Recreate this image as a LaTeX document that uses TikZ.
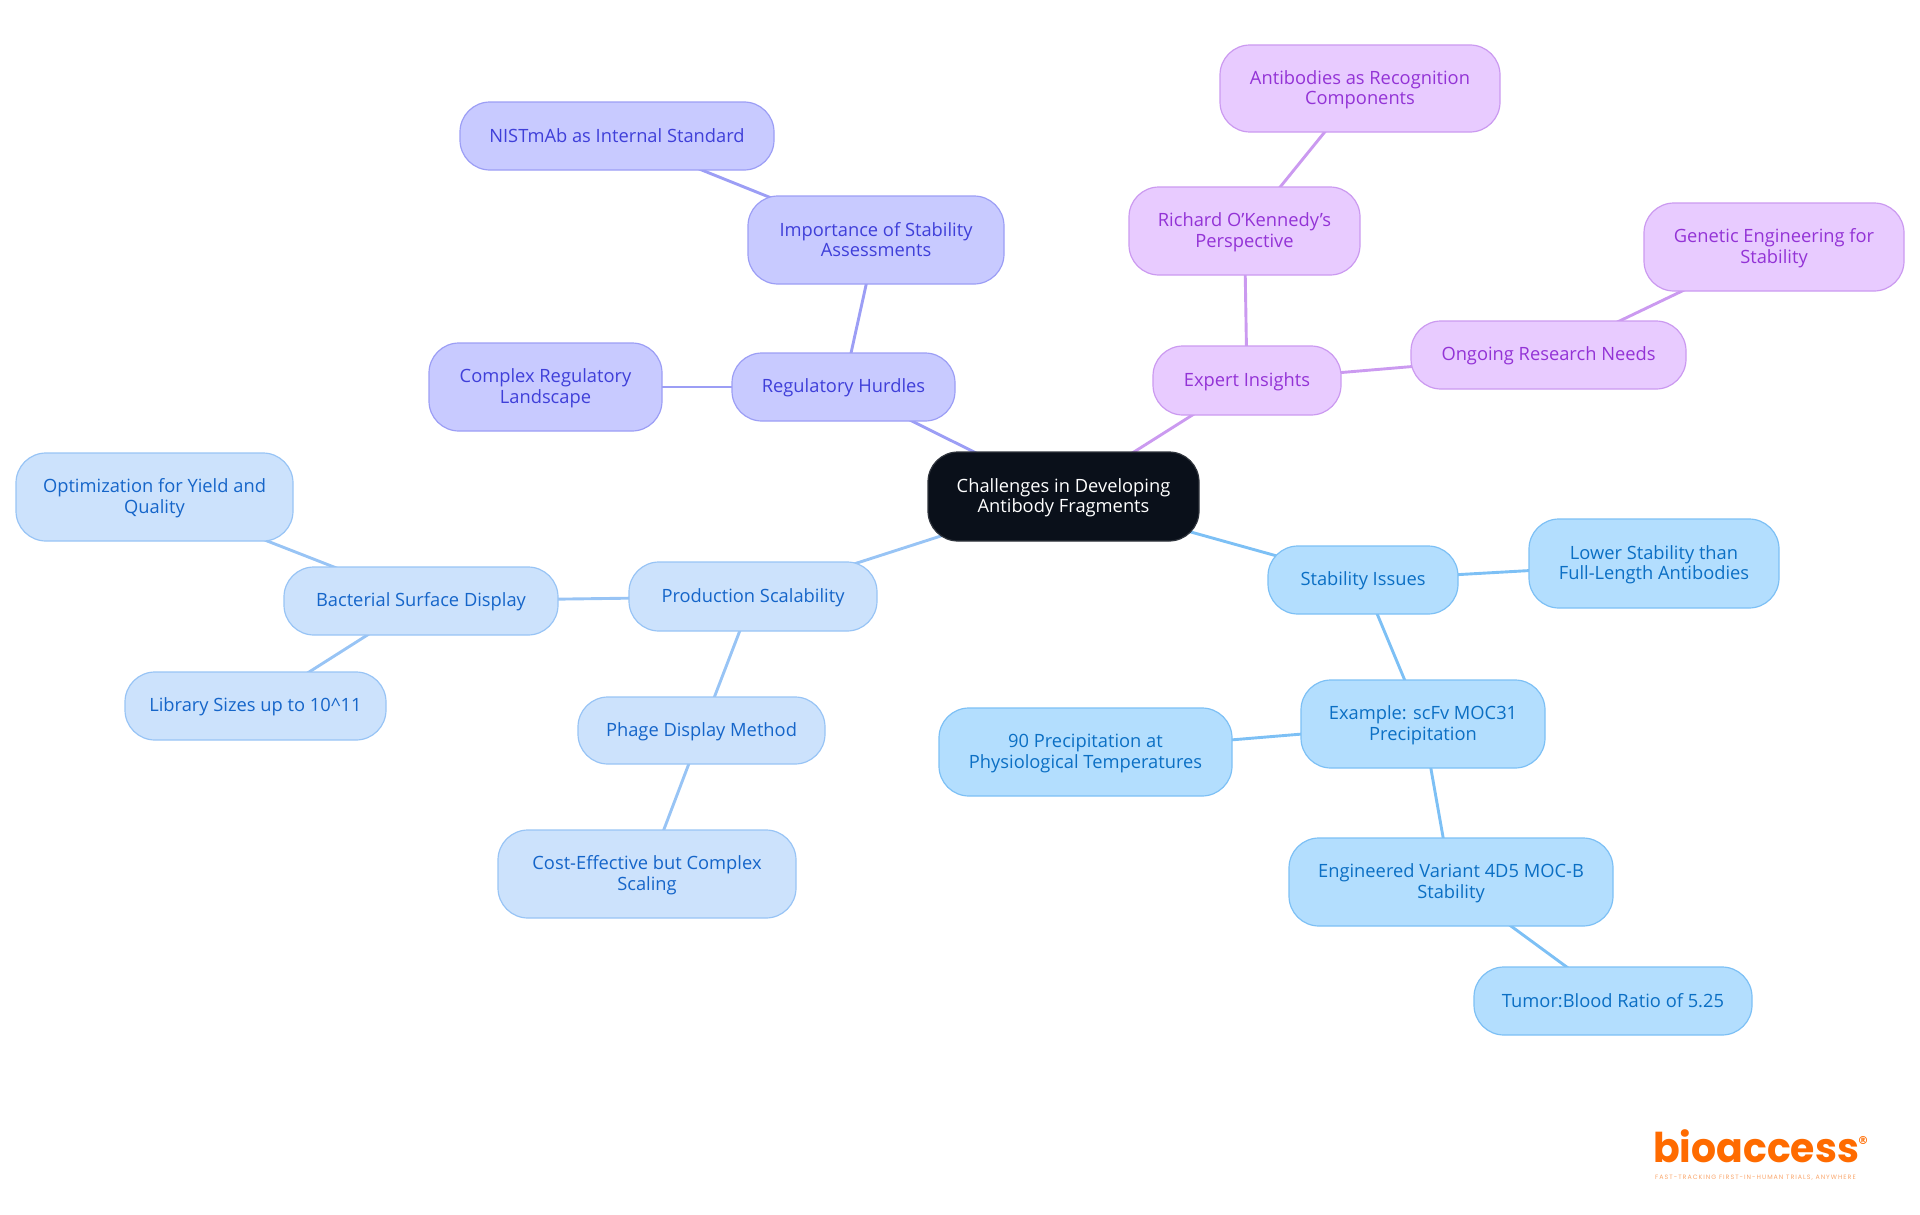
\documentclass[tikz,border=0pt]{standalone}
\usepackage{fontspec}
\setmainfont{Open Sans}
\newfontfamily\logofont{Poppins}
\newfontfamily\markfont{DejaVu Sans}
\newfontfamily\tagfont[LetterSpace=16]{Poppins}
\usetikzlibrary{backgrounds}
\definecolor{bfill}{HTML}{B3DEFE}\definecolor{bline}{HTML}{7DC0F5}\definecolor{btext}{HTML}{0B6FC4}
\definecolor{lfill}{HTML}{CCE2FC}\definecolor{lline}{HTML}{98C4F5}\definecolor{ltext}{HTML}{1565C9}
\definecolor{ifill}{HTML}{C8CAFF}\definecolor{iline}{HTML}{9C9EF5}\definecolor{itext}{HTML}{3F3FD9}
\definecolor{pfill}{HTML}{E8CBFF}\definecolor{pline}{HTML}{CB9AF0}\definecolor{ptext}{HTML}{9333D6}
\definecolor{cfill}{HTML}{0A101A}\definecolor{orangelogo}{HTML}{FF6B00}\definecolor{orangetag}{HTML}{F9A66C}
\tikzset{
  bubble/.style={draw,rounded corners=30pt,align=center,inner sep=0pt,outer sep=0pt,line width=1.2pt,font=\fontsize{18.3}{20.4}\selectfont},
  centralbox/.style={bubble,fill=cfill,draw=cfill!85!white,text=white},
  bluebox/.style={bubble,fill=bfill,draw=bline,text=btext},
  lightbox/.style={bubble,fill=lfill,draw=lline,text=ltext},
  indigobox/.style={bubble,fill=ifill,draw=iline,text=itext},
  purplebox/.style={bubble,fill=pfill,draw=pline,text=ptext},
  link/.style={line width=2.9pt},
  bluelink/.style={link,draw=bline},
  lightlink/.style={link,draw=lline},
  indigolink/.style={link,draw=iline},
  purplelink/.style={link,draw=pline},
}
\newcommand{\bubblenode}[7]{\node[#1,minimum width={(#5-#3)*1pt},minimum height={(#6-#4)*1pt}] (#2) at ({(#3+#5)/2},{(#4+#6)/2}) {\rule{0pt}{16pt}#7\rule[-3.6pt]{0pt}{0pt}};}
\begin{document}
\begin{tikzpicture}[x=1pt,y=-1pt]
\useasboundingbox (0,0) rectangle (1920,1215);
\bubblenode{centralbox}{root}{928}{452}{1199}{541}{Challenges in Developing\\Antibody Fragments}
\bubblenode{bluebox}{stab}{1268}{546}{1458}{614}{Stability Issues}
\bubblenode{bluebox}{lower}{1529}{519}{1779}{608}{Lower Stability than\\Full-Length Antibodies}
\bubblenode{bluebox}{moc}{1301}{680}{1545}{768}{Example: scFv MOC31\\Precipitation}
\bubblenode{bluebox}{precip}{939}{708}{1232}{796}{90 Precipitation at\\Physiological Temperatures}
\bubblenode{bluebox}{variant}{1289}{838}{1613}{926}{Engineered Variant 4D5 MOC-B\\Stability}
\bubblenode{bluebox}{tumor}{1474}{967}{1752}{1035}{Tumor:Blood Ratio of 5.25}
\bubblenode{lightbox}{prod}{629}{562}{877}{631}{Production Scalability}
\bubblenode{lightbox}{bact}{284}{567}{558}{635}{Bacterial Surface Display}
\bubblenode{lightbox}{optim}{16}{453}{293}{541}{Optimization for Yield and\\Quality}
\bubblenode{lightbox}{lib}{125}{672}{386}{740}{Library Sizes up to 10\textasciicircum 11}
\bubblenode{lightbox}{phage}{578}{697}{825}{764}{Phage Display Method}
\bubblenode{lightbox}{cost}{498}{830}{796}{918}{Cost-Effective but Complex\\Scaling}
\bubblenode{indigobox}{reg}{732}{353}{955}{421}{Regulatory Hurdles}
\bubblenode{indigobox}{imp}{748}{196}{1004}{284}{Importance of Stability\\Assessments}
\bubblenode{indigobox}{nist}{460}{102}{774}{170}{NISTmAb as Internal Standard}
\bubblenode{indigobox}{landscape}{429}{343}{662}{431}{Complex Regulatory\\Landscape}
\bubblenode{purplebox}{expert}{1153}{346}{1341}{415}{Expert Insights}
\bubblenode{purplebox}{richard}{1129}{187}{1360}{275}{Richard O'Kennedy's\\Perspective}
\bubblenode{purplebox}{recog}{1220}{45}{1500}{132}{Antibodies as Recognition\\Components}
\bubblenode{purplebox}{ongoing}{1411}{321}{1686}{389}{Ongoing Research Needs}
\bubblenode{purplebox}{genetic}{1644}{203}{1904}{291}{Genetic Engineering for\\Stability}
\begin{scope}[on background layer]
\draw[bluelink] (root.center) -- (stab.center);
\draw[bluelink] (stab.center) -- (lower.center);
\draw[bluelink] (stab.center) -- (moc.center);
\draw[bluelink] (moc.center) -- (precip.center);
\draw[bluelink] (moc.center) -- (variant.center);
\draw[bluelink] (variant.center) -- (tumor.center);
\draw[lightlink] (root.center) -- (prod.center);
\draw[lightlink] (prod.center) -- (bact.center);
\draw[lightlink] (bact.center) -- (optim.center);
\draw[lightlink] (bact.center) -- (lib.center);
\draw[lightlink] (prod.center) -- (phage.center);
\draw[lightlink] (phage.center) -- (cost.center);
\draw[indigolink] (root.center) -- (reg.center);
\draw[indigolink] (reg.center) -- (imp.center);
\draw[indigolink] (imp.center) -- (nist.center);
\draw[indigolink] (reg.center) -- (landscape.center);
\draw[purplelink] (root.center) -- (expert.center);
\draw[purplelink] (expert.center) -- (richard.center);
\draw[purplelink] (richard.center) -- (recog.center);
\draw[purplelink] (expert.center) -- (ongoing.center);
\draw[purplelink] (ongoing.center) -- (genetic.center);
\end{scope}
\node[inner sep=0pt,anchor=base west,text=orangelogo,xscale=0.96,transform shape,font=\logofont\bfseries\fontsize{41}{41}\selectfont] (logo) at (1653,1162) {bioaccess};
\node[inner sep=0pt,text=orangelogo,font=\markfont\bfseries\fontsize{11}{11}\selectfont] (regmark) at (1863,1141) {®};
\node[inner sep=0pt,anchor=base west,text=orangetag,font=\tagfont\fontsize{6.3}{7}\selectfont] (tagline) at (1655,1179) {FAST-TRACKING FIRST-IN-HUMAN TRIALS, ANYWHERE};
\end{tikzpicture}
\end{document}
